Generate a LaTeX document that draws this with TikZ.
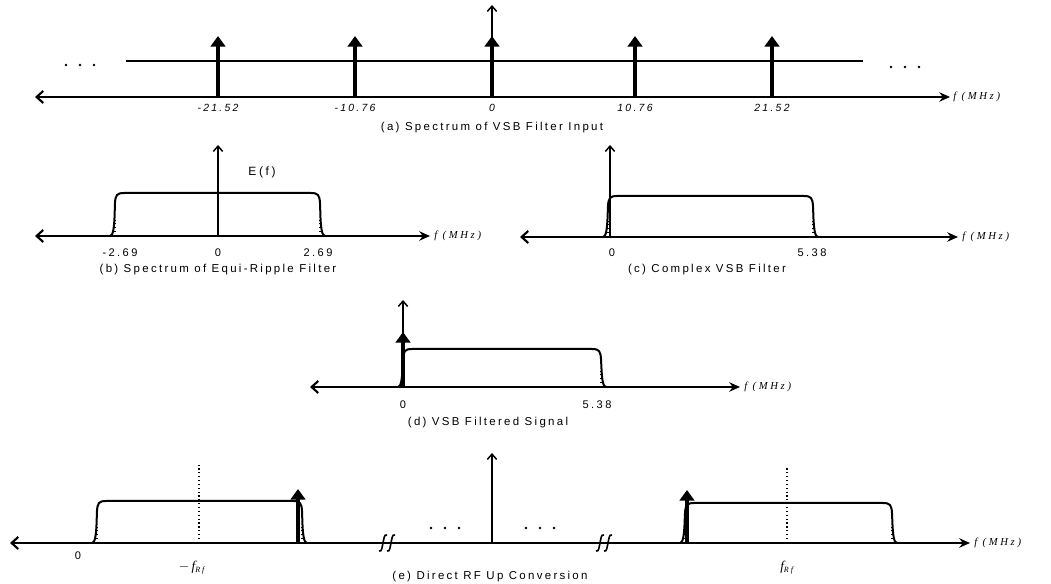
\documentclass[tikz,border=0pt]{standalone}
\usepackage{fontspec}
\usetikzlibrary{arrows.meta}
\setmainfont{Liberation Sans}
\newfontfamily\capfont{Liberation Sans}[LetterSpace=20]
\newfontfamily\numfont{Liberation Sans}[LetterSpace=22]
\newfontfamily\serf{Liberation Serif}[LetterSpace=25]
\tikzset{
 ax/.style={line width=1.6pt, {Straight Barb[length=5pt,width=9pt]}-{Stealth[length=8pt,width=7pt]}},
 vax/.style={line width=1.1pt, -{Straight Barb[length=4pt,width=7pt]}},
 imp/.style={line width=2.8pt, -{Triangle[length=8pt,width=11pt]}},
 band/.style={line width=1.5pt, line join=round},
 dotl/.style={line width=0.9pt, dotted},
 hl/.style={line width=1.5pt},
 brk/.style={line width=1.2pt},
 captxt/.style={font=\capfont\fontsize{8.6}{10}\selectfont, inner sep=0},
 num/.style={font=\numfont\fontsize{8.3}{10}\selectfont, inner sep=0},
 numi/.style={font=\numfont\itshape\fontsize{7.8}{9}\selectfont, inner sep=0},
 fl/.style={font=\serf\itshape\fontsize{8}{9}\selectfont, inner sep=0, anchor=west},
 fr/.style={font=\serf\itshape\fontsize{10}{11}\selectfont, inner sep=0},
}
\newcommand\bandpath[4]{%
 \draw[band] (#1,#3) .. controls (#1+3,#3) and (#1+4,#3-8) .. (#1+4.5,#3-18) -- (#1+5,#4+10)
   .. controls (#1+5.5,#4+2) and (#1+7,#4) .. (#1+14,#4) -- (#2-14,#4)
   .. controls (#2-7,#4) and (#2-5.5,#4+2) .. (#2-5,#4+10) -- (#2-4.5,#3-18)
   .. controls (#2-4,#3-8) and (#2-3,#3) .. (#2,#3);
 \draw[dotl] (#1+5,#3) -- (#1+5,#3-16);
 \draw[dotl] (#2-5,#3) -- (#2-5,#3-16);
}
\newcommand\brkmark[2]{%
 \draw[brk] (#1-4,#2+8) .. controls (#1-1,#2+9) and (#1-1,#2+4) .. (#1,#2)
   .. controls (#1+1,#2-4) and (#1+1,#2-9) .. (#1+4,#2-8);
}
\newcommand\threedots[2]{%
 \foreach \k in {0,1,2} {\fill (#1+\k*14,#2) circle (1.3);}
}
\begin{document}
\begin{tikzpicture}[x=0.75pt,y=-0.75pt]
\useasboundingbox (0,0) rectangle (1051,584);
% ---------- (a)
\coordinate (aL) at (35,97); \coordinate (aR) at (950,97);
\draw[ax] (aL) -- (aR);
\node[fl] (af) at (953,97) {f\ (MHz)};
\coordinate (hA) at (126,61); \coordinate (hB) at (863,61);
\draw[hl] (hA) -- (hB);
\coordinate (a0top) at (492,5);
\draw[vax] (492,97) -- (a0top);
\foreach \x/\l in {218/-21.52,355/-10.76,492/0,635/10.76,772/21.52} {
  \draw[imp] (\x,97) -- (\x,36);
  \node[numi] at (\x,108) {\l};
}
\threedots{66}{65}
\threedots{891}{67}
\node[captxt] (capa) at (492,128) {(a) Spectrum of VSB Filter Input};
% ---------- (b)
\coordinate (bL) at (35,236); \coordinate (bR) at (430,236);
\draw[ax] (bL) -- (bR);
\node[fl] (bf) at (434,236) {f\ (MHz)};
\bandpath{110}{325}{236}{193}
\draw[vax] (218,236) -- (218,145);
\node[font=\numfont\fontsize{9}{10}\selectfont, inner sep=0] (Ef) at (262,172) {E(f)};
\node[num] at (120,253) {-2.69};
\node[num] at (218,253) {0};
\node[num] at (318,253) {2.69};
\node[captxt] (capb) at (218,270) {(b) Spectrum of Equi-Ripple Filter};
% ---------- (c)
\coordinate (cL) at (520,237); \coordinate (cR) at (958,237);
\draw[ax] (cL) -- (cR);
\node[fl] (cf) at (962,237) {f\ (MHz)};
\bandpath{603}{818}{237}{196}
\draw[vax] (610,237) -- (610,145);
\node[num] at (612,253) {0};
\node[num] at (812,253) {5.38};
\node[captxt] (capc) at (707,270) {(c) Complex VSB Filter};
% ---------- (d)
\coordinate (dL) at (310,387); \coordinate (dR) at (740,387);
\draw[ax] (dL) -- (dR);
\node[fl] (df) at (744,387) {f\ (MHz)};
\bandpath{398}{606}{387}{349}
\draw[vax] (403,387) -- (403,300);
\draw[imp] (403,387) -- (403,332);
\node[num] at (403,405) {0};
\node[num] at (597,405) {5.38};
\node[captxt] (capd) at (488,423) {(d) VSB Filtered Signal};
% ---------- (e)
\coordinate (eL) at (10,543); \coordinate (eR) at (970,543);
\draw[ax] (eL) -- (eR);
\node[fl] (ef) at (974,543) {f\ (MHz)};
\bandpath{92}{307}{543}{501}
\draw[dotl] (199,543) -- (199,465);
\draw[imp] (298,543) -- (298,489);
\bandpath{680}{897}{543}{503}
\draw[dotl] (787,543) -- (787,467);
\draw[imp] (687,543) -- (687,490);
\draw[vax] (492,543) -- (492,453);
\brkmark{383}{543}\brkmark{391}{543}
\brkmark{600}{543}\brkmark{608}{543}
\threedots{431}{528}
\threedots{526}{528}
\node[num] at (78,556) {0};
\node[fr] (fm) at (192,568) {$-$\,f\textsubscript{\fontsize{6}{7}\selectfont Rf}};
\node[fr] (fp) at (787,568) {f\textsubscript{\fontsize{6}{7}\selectfont Rf}};
\node[captxt] (cape) at (490,577) {(e) Direct RF Up Conversion};
\end{tikzpicture}
\end{document}
